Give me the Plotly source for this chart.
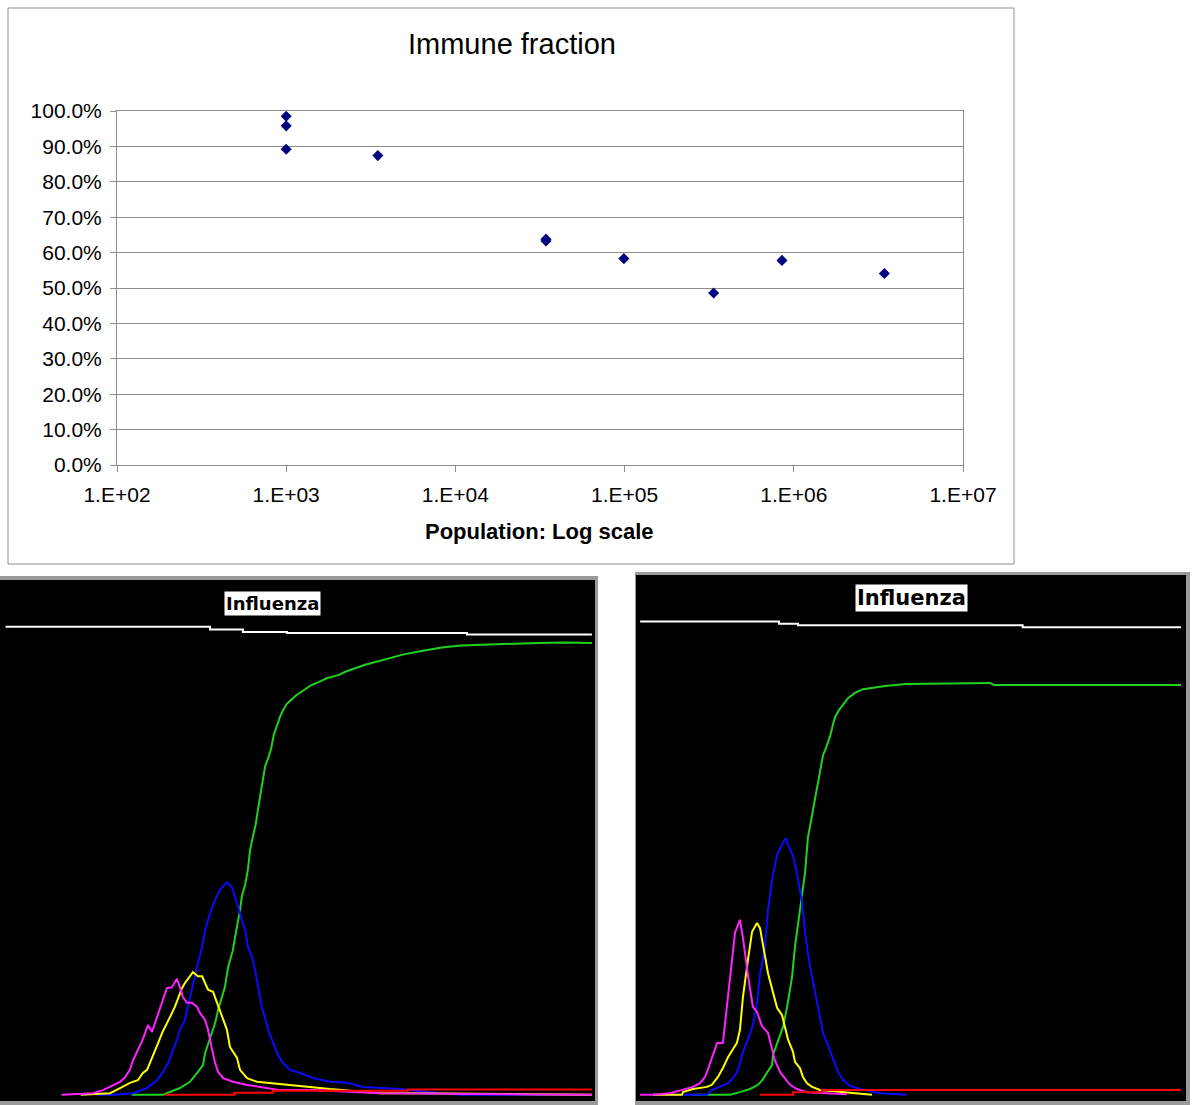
import plotly.graph_objects as go

W, H = 1200, 1105

# ---------------- Top chart: Immune fraction vs population ----------------
population = [1000, 1000, 1000, 3480, 34300, 34300, 99000, 336000, 851000, 3430000]
immune_fraction = [0.985, 0.958, 0.892, 0.874, 0.633, 0.638, 0.583, 0.486, 0.578, 0.541]
x_tick_vals = [1e2, 1e3, 1e4, 1e5, 1e6, 1e7]
x_tick_text = ["1.E+02", "1.E+03", "1.E+04", "1.E+05", "1.E+06", "1.E+07"]
y_tick_vals = [0.0, 0.1, 0.2, 0.3, 0.4, 0.5, 0.6, 0.7, 0.8, 0.9, 1.0]
top_title = "Immune fraction"
top_xlabel = "Population: Log scale"
panel_title = "Influenza"

# ---------------- Bottom-left panel (time step, % of population) ----------------
L_white_t = [1.2, 70.3, 81.4, 96.3, 157.1, 199.3]
L_white_v = [91.0, 90.5, 90.0, 89.8, 89.5, 89.5]

L_green_t = [43.8, 54.4, 60.1, 63.5, 66.2, 67.9, 68.6, 70.3, 72.0, 73.0, 74.3, 75.3, 76.4, 77.0,
             78.0, 78.7, 79.7, 80.4, 81.1, 82.2, 83.1, 83.8, 84.4, 85.7, 86.6, 87.4, 88.3, 88.9,
             90.0, 90.9, 91.8, 92.5, 93.8, 94.8, 96.1, 98.0, 99.3, 101.9, 104.5, 107.1, 109.7,
             113.6, 116.2, 122.7, 129.2, 135.7, 142.2, 148.6, 155.1, 168.1, 181.1, 190.2, 199.3]
L_green_v = [1.0, 1.0, 2.3, 3.5, 5.4, 6.7, 9.0, 11.9, 14.8, 17.3, 19.6, 21.7, 25.6, 26.9,
             28.8, 31.2, 34.2, 36.5, 39.4, 41.5, 44.4, 48.1, 49.7, 53.0, 56.3, 58.9, 62.2, 64.2,
             65.9, 67.5, 70.2, 71.5, 73.5, 74.8, 76.1, 77.1, 77.8, 78.8, 79.8, 80.4, 81.1,
             81.7, 82.4, 83.7, 84.7, 85.7, 86.4, 87.0, 87.4, 87.7, 87.9, 88.0, 87.9]

L_blue_t = [31.8, 37.5, 44.3, 49.0, 52.4, 54.4, 56.1, 57.4, 59.1, 60.1, 61.8, 62.8, 64.5, 65.9,
            67.6, 68.6, 70.3, 72.0, 73.6, 76.0, 77.7, 78.7, 80.4, 82.1, 83.1, 84.5, 85.5, 86.5,
            87.8, 88.9, 89.9, 91.6, 93.2, 94.9, 97.3, 100.7, 105.1, 110.8, 116.6, 122.0, 127.7,
            134.5, 144.6, 155.1, 199.3]
L_blue_v = [1.0, 1.0, 1.3, 2.3, 3.8, 5.4, 7.1, 9.0, 11.5, 13.5, 15.4, 17.9, 22.5, 25.6,
            29.4, 32.7, 35.9, 38.5, 40.4, 41.9, 40.9, 39.0, 35.9, 32.7, 29.4, 27.5, 25.0, 21.7,
            17.7, 15.8, 13.5, 11.0, 8.7, 7.1, 5.8, 5.2, 4.2, 3.5, 3.3, 2.5, 2.3,
            2.1, 1.5, 1.0, 1.0]

L_yellow_t = [26.6, 36.5, 39.9, 43.2, 45.9, 47.6, 49.0, 50.7, 51.7, 52.7, 54.1, 55.1, 56.1, 57.4,
              58.4, 59.5, 60.8, 61.8, 63.5, 64.5, 66.2, 67.6, 68.6, 69.6, 71.3, 72.6, 73.6, 74.7,
              76.0, 77.0, 79.4, 80.4, 82.8, 86.1, 89.5, 96.3, 105.1, 110.8, 119.9, 127.7, 138.9,
              199.3]
L_yellow_v = [1.0, 1.3, 2.3, 3.3, 3.8, 5.2, 5.8, 8.3, 9.6, 10.9, 12.9, 14.0, 15.0, 16.7,
              17.9, 19.6, 21.5, 22.5, 23.8, 24.6, 23.8, 23.8, 22.5, 21.2, 20.8, 18.7, 17.3, 15.4,
              13.5, 10.2, 8.1, 5.8, 4.2, 3.5, 3.3, 2.9, 2.3, 2.1, 1.7, 1.3, 1.3,
              1.0]

L_magenta_t = [20.1, 30.7, 34.1, 37.5, 39.9, 41.6, 43.2, 44.3, 45.9, 47.6, 49.3, 50.7, 51.7, 53.4,
               54.4, 55.7, 57.4, 59.1, 60.1, 61.1, 62.5, 64.2, 65.9, 66.9, 68.6, 69.6, 71.0, 72.0,
               73.0, 74.7, 78.0, 82.8, 87.2, 93.9, 105.1, 118.6, 127.7, 199.3]
L_magenta_v = [1.0, 1.3, 1.9, 2.9, 3.5, 4.4, 5.8, 7.7, 9.6, 11.7, 14.4, 13.1, 14.8, 17.7,
               19.2, 21.5, 21.7, 23.3, 21.7, 19.8, 18.7, 18.7, 17.9, 16.7, 15.4, 13.5, 9.6, 7.1,
               5.4, 4.2, 3.5, 2.9, 2.5, 1.9, 1.9, 1.5, 1.3, 1.0]

L_red_t = [55.1, 78.5, 91.5, 137.0, 199.3]
L_red_v = [1.0, 1.4, 1.8, 2.0, 2.0]

# ---------------- Bottom-right panel (time step, % of population) ----------------
R_white_t = [1.5, 52.0, 58.9, 140.6, 198.2]
R_white_v = [91.3, 90.9, 90.6, 90.2, 90.2]

R_green_t = [20.4, 34.2, 37.8, 41.5, 44.4, 46.2, 47.6, 49.5, 49.8, 51.3, 53.5, 54.9, 56.7, 57.8,
             59.6, 61.5, 62.5, 64.4, 65.8, 67.3, 68.0, 69.1, 70.5, 71.6, 72.4, 73.8, 75.3, 77.1,
             79.6, 82.5, 85.1, 90.5, 98.2, 128.7, 130.2, 198.2]
R_green_v = [1.0, 1.0, 1.5, 2.1, 2.9, 4.0, 5.2, 6.7, 8.6, 10.9, 14.0, 17.6, 23.3, 29.2,
             36.6, 43.5, 50.0, 55.5, 59.7, 63.3, 65.8, 67.2, 69.3, 71.6, 73.1, 74.4, 75.4, 76.7,
             77.7, 78.4, 78.6, 79.0, 79.4, 79.6, 79.2, 79.2]

R_blue_t = [10.5, 25.8, 27.6, 30.5, 33.5, 35.3, 36.7, 37.8, 38.9, 40.7, 42.5, 44.0, 45.1, 46.9,
            48.0, 49.5, 51.3, 53.1, 54.5, 55.3, 57.1, 58.5, 60.4, 61.5, 62.9, 64.4, 65.8, 66.9,
            68.0, 69.5, 70.5, 71.6, 73.5, 75.3, 77.8, 81.5, 88.7, 98.5]
R_blue_v = [1.0, 1.0, 1.9, 2.5, 3.2, 4.2, 5.3, 7.0, 9.2, 11.5, 14.3, 18.5, 24.0, 29.2,
            36.3, 42.0, 46.8, 48.7, 50.0, 48.7, 46.6, 43.3, 37.8, 31.9, 26.7, 22.5, 18.5, 15.6,
            12.8, 10.9, 9.5, 7.6, 5.3, 3.8, 2.7, 2.1, 1.3, 1.0]

R_yellow_t = [6.2, 16.7, 17.1, 20.7, 25.8, 27.6, 29.8, 31.6, 33.5, 36.7, 37.8, 38.9, 40.7, 42.2,
              44.0, 45.1, 48.0, 49.5, 51.3, 53.1, 55.3, 57.1, 57.8, 59.6, 60.7, 62.2, 64.0, 66.9,
              74.2, 85.8]
R_yellow_v = [1.0, 1.0, 1.5, 2.1, 2.5, 2.9, 4.4, 6.1, 8.2, 10.9, 13.4, 19.7, 26.7, 32.1,
              33.8, 32.8, 24.2, 21.0, 17.6, 16.2, 11.5, 9.2, 7.3, 6.1, 4.4, 3.2, 2.5, 1.9,
              1.5, 1.0]

R_magenta_t = [1.5, 6.2, 12.4, 17.1, 20.7, 23.3, 25.1, 26.2, 27.6, 29.5, 31.6, 33.5, 34.9, 36.0,
               37.8, 38.9, 40.7, 42.5, 44.0, 45.8, 48.0, 49.5, 50.5, 52.4, 54.2, 56.0, 58.5, 62.2,
               69.5, 76.7]
R_magenta_v = [1.0, 1.0, 1.3, 1.9, 2.5, 3.2, 4.4, 5.9, 8.0, 10.9, 10.9, 19.5, 26.2, 31.9,
               34.4, 30.9, 23.9, 17.8, 16.8, 14.1, 12.8, 9.5, 7.6, 5.3, 4.2, 2.9, 2.1, 1.5,
               1.3, 1.1]

R_red_t = [45.1, 57.1, 67.6, 198.2]
R_red_v = [1.0, 1.5, 1.9, 1.9]

COL = {"white": "#ffffff", "green": "#1fd21f", "blue": "#0a0aff",
       "yellow": "#ffff00", "magenta": "#ff22ff", "red": "#ff0000"}


def px(x):
    return x / W


def py(y):
    return 1 - y / H


fig = go.Figure()

# top scatter
fig.add_trace(go.Scatter(
    x=population, y=immune_fraction, mode="markers", xaxis="x", yaxis="y",
    marker=dict(symbol="diamond", size=8.5, color="#000080", line=dict(width=0)),
    hoverinfo="x+y"))


def add_panel(series, xa, ya):
    for t, v, color, shape in series:
        fig.add_trace(go.Scatter(
            x=t, y=v, mode="lines", xaxis=xa, yaxis=ya,
            line=dict(color=COL[color], width=2, shape=shape), hoverinfo="skip"))


add_panel([
    (L_white_t, L_white_v, "white", "hv"),
    (L_green_t, L_green_v, "green", "linear"),
    (L_blue_t, L_blue_v, "blue", "linear"),
    (L_yellow_t, L_yellow_v, "yellow", "linear"),
    (L_magenta_t, L_magenta_v, "magenta", "linear"),
    (L_red_t, L_red_v, "red", "hv"),
], "x2", "y2")

add_panel([
    (R_white_t, R_white_v, "white", "hv"),
    (R_green_t, R_green_v, "green", "linear"),
    (R_blue_t, R_blue_v, "blue", "linear"),
    (R_yellow_t, R_yellow_v, "yellow", "linear"),
    (R_magenta_t, R_magenta_v, "magenta", "linear"),
    (R_red_t, R_red_v, "red", "hv"),
], "x3", "y3")

FONT = "Liberation Sans, Arial, Helvetica, sans-serif"
GRID = "#8c8c8c"

hidden = dict(visible=False, fixedrange=True, showgrid=False, zeroline=False, automargin=False)

fig.update_layout(
    template="none",
    width=W, height=H, autosize=False,
    margin=dict(l=0, r=0, t=0, b=0, pad=0, autoexpand=False),
    paper_bgcolor="white", plot_bgcolor="white",
    showlegend=False,
    font=dict(family=FONT, color="black"),
    xaxis=dict(
        type="log", range=[2, 7], domain=[px(117), px(963)], anchor="y",
        tickvals=x_tick_vals, ticktext=x_tick_text, automargin=False,
        tickfont=dict(size=21, family=FONT, color="black"),
        ticks="outside", ticklen=6, tickcolor=GRID, tickwidth=1,
        ticklabelstandoff=5,
        showline=True, linecolor=GRID, linewidth=1, mirror=True,
        showgrid=False, zeroline=False, fixedrange=True),
    yaxis=dict(
        range=[0, 1], domain=[py(465), py(111)], anchor="x", automargin=False,
        tickvals=y_tick_vals, tickformat=".1%",
        tickfont=dict(size=21, family=FONT, color="black"),
        ticks="outside", ticklen=6, tickcolor=GRID, tickwidth=1,
        ticklabelstandoff=4,
        showline=True, linecolor=GRID, linewidth=1, mirror=True,
        showgrid=True, gridcolor=GRID, gridwidth=1, zeroline=False, fixedrange=True),
    xaxis2=dict(range=[0, 200], domain=[px(2), px(594)], anchor="y2", **hidden),
    yaxis2=dict(range=[0, 100], domain=[py(1100), py(580)], anchor="x2", **hidden),
    xaxis3=dict(range=[0, 200], domain=[px(636), px(1186)], anchor="y3", **hidden),
    yaxis3=dict(range=[0, 100], domain=[py(1100), py(576)], anchor="x3", **hidden),
)

shapes = []
# top chart outer frame
shapes.append(dict(type="rect", xref="paper", yref="paper", x0=px(8), x1=px(1014), y0=py(564), y1=py(8),
                   line=dict(color="#909090", width=1), fillcolor="rgba(0,0,0,0)", layer="below"))
# left panel background and frame
shapes.append(dict(type="rect", xref="paper", yref="paper", x0=px(0), x1=px(598), y0=py(1105), y1=py(576),
                   line=dict(width=0), fillcolor="#9a9a9a", layer="below"))
shapes.append(dict(type="rect", xref="paper", yref="paper", x0=px(0), x1=px(595), y0=py(1101), y1=py(580),
                   line=dict(width=0), fillcolor="black", layer="below"))
# right panel background and frame
shapes.append(dict(type="rect", xref="paper", yref="paper", x0=px(635), x1=px(1190), y0=py(1105), y1=py(572),
                   line=dict(width=0), fillcolor="#9a9a9a", layer="below"))
shapes.append(dict(type="rect", xref="paper", yref="paper", x0=px(636), x1=px(1186), y0=py(1101), y1=py(575),
                   line=dict(width=0), fillcolor="black", layer="below"))
fig.update_layout(shapes=shapes)

annotations = [
    dict(text=top_title, xref="paper", yref="paper", x=px(512), y=py(44), showarrow=False,
         xanchor="center", yanchor="middle", font=dict(size=29, family=FONT, color="black")),
    dict(text="<b>" + top_xlabel + "</b>", xref="paper", yref="paper", x=px(539), y=py(531),
         showarrow=False, xanchor="center", yanchor="middle",
         font=dict(size=22, family=FONT, color="black")),
    dict(text="<b>" + panel_title + "</b>", xref="paper", yref="paper", x=px(272.5), y=py(603),
         showarrow=False, xanchor="center", yanchor="middle", bgcolor="white", borderpad=1,
         font=dict(size=18, family="DejaVu Sans, Verdana, sans-serif", color="black")),
    dict(text="<b>" + panel_title + "</b>", xref="paper", yref="paper", x=px(911), y=py(598),
         showarrow=False, xanchor="center", yanchor="middle", bgcolor="white", borderpad=1,
         font=dict(size=21, family="DejaVu Sans, Verdana, sans-serif", color="black")),
]
fig.update_layout(annotations=annotations)

fig.write_html("out.html", post_script="document.body.style.margin='0';",
               config={"displayModeBar": False})
